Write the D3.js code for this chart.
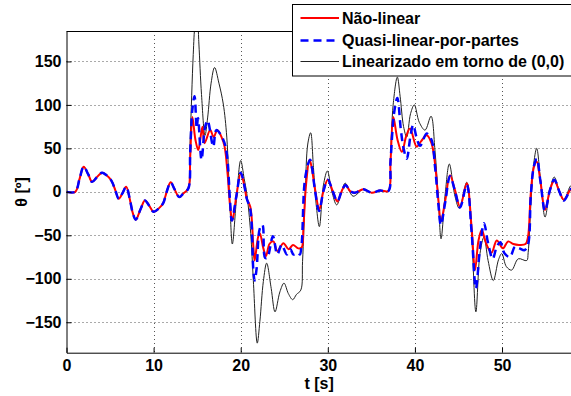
<!DOCTYPE html>
<html lang="pt">
<head>
<meta charset="utf-8">
<title>theta</title>
<script src="https://cdn.jsdelivr.net/npm/d3@7"></script>
<style>
  body { margin: 0; background: #fff; }
  text { font-family: "Liberation Sans", Arial, sans-serif; font-weight: bold; fill: #000; }
</style>
</head>
<body>
<svg id="chart" width="571" height="396"></svg>
<script>
// tick values
var xTicks = [0, 10, 20, 30, 40, 50];
var yTicks = [-150, -100, -50, 0, 50, 100, 150];

// common start (all three models agree until ~14 s)
var inicio = [[0,0],[1.0,0],[1.5,15],[1.97,29],[2.5,20],[2.93,11.5],[3.5,17],[4.08,22],[4.6,19],[5.15,13],
  [5.6,2],[6.0,-8],[6.4,-2],[6.85,5.8],[7.3,-10],[7.6,-24],[7.95,-32],[8.5,-20],[9.0,-10],[9.5,-16],
  [10.0,-23],[10.6,-19],[11.1,-13],[11.5,0],[11.96,11],[12.4,3],[12.95,-6],[13.4,-2],[13.99,4]];

var naoLinear = [[14.2,40],[14.45,86],[14.8,60],[15.13,48],[15.6,75],[15.85,56],[16.5,71],[16.9,63],[17.3,71],
  [17.8,63],[18.15,52],[18.5,20],[18.77,-15],[19.04,-33],[19.5,-5],[20.0,21],[20.4,8],[20.7,-8],[21.1,-17],
  [21.45,-63],[21.6,-79],[22.0,-52],[22.2,-48],[22.6,-65],[22.9,-74],[23.3,-60],[23.75,-57],[24.2,-68],
  [24.9,-59],[25.5,-66],[26.0,-61],[26.6,-65],[27.0,-64],[27.2,-41],[27.5,8],[27.9,37],[28.15,28],[28.5,5],
  [29.03,-20],[29.5,1],[30.0,14],[30.56,1],[31.1,-11],[31.6,1],[32.05,8],[32.55,1],[33.1,-1],[34.08,3],
  [35.04,-1],[36.0,1.5],[36.95,1],[37.2,35],[37.52,86],[38.0,60],[38.5,46],[39.0,64],[39.44,73],[40.2,52],
  [40.7,58],[41.35,65],[41.9,56],[42.3,33],[42.7,-10],[42.98,-34],[43.48,-10],[44.03,19],[44.6,2],
  [45.18,-17],[45.95,10],[46.5,-40],[46.9,-90],[47.3,-56],[47.67,-44],[48.2,-60],[48.8,-70],[49.4,-56],
  [50.1,-65],[50.7,-57],[51.3,-60],[51.95,-61],[52.7,-60],[52.98,-52],[53.3,-2],[53.67,29],[53.98,35],
  [54.4,13],[54.94,-21],[55.5,2],[56.0,13],[56.6,0],[57.1,-9],[57.8,2],[58,4]];

var quasiLinear = [[14.2,45],[14.45,95],[14.7,110],[14.95,74],[15.1,85],[15.5,37],[15.9,74],[16.2,82],
  [16.85,52],[17.2,71],[18.0,60],[18.4,44],[18.77,-10],[18.98,-33],[19.5,-5],[20.0,22],[20.4,8],[20.7,-8],
  [21.1,-20],[21.45,-90],[21.6,-102],[21.83,-88],[22.2,-42],[22.5,-38],[22.8,-76],[23.05,-76],[23.7,-51],
  [24.2,-72],[24.7,-61],[25.3,-72],[25.7,-66],[26.05,-72],[26.6,-70],[26.8,-72],[27.0,-60],[27.4,16],
  [27.96,37],[28.2,27],[28.5,4],[29.0,-22],[29.5,1],[30.0,14],[30.56,1],[31.1,-11],[31.6,1],[32.05,8],
  [32.55,1],[33.1,-1],[34.08,3],[35.04,-1],[36.0,1.5],[36.95,1],[37.2,35],[37.6,90],[37.98,108],[38.4,70],
  [38.7,50],[39.06,38],[39.5,65],[39.8,77],[40.2,62],[40.6,53],[41.35,67],[41.9,60],[42.3,30],[42.7,-15],
  [42.98,-38],[43.48,-12],[44.03,18],[44.6,1],[45.18,-18],[45.95,8],[46.5,-45],[47.0,-111],[47.47,-65],
  [47.93,-36],[48.4,-59],[48.93,-77],[49.4,-63],[49.8,-58],[50.3,-71],[50.9,-75],[51.5,-63],[52.0,-65],
  [52.6,-67],[53.0,-60],[53.3,-5],[53.67,30],[54.0,38],[54.4,13],[54.94,-22],[55.5,2],[56.0,14],[56.6,0],
  [57.1,-10],[57.8,2],[58,4]];

var linearizado = [[14.2,60],[14.55,158],[14.75,192],[15.0,205],[15.2,170],[15.5,112],[15.9,65],[16.2,85],
  [16.6,125],[17.0,143],[17.5,125],[18.0,101],[18.4,63],[18.77,-17],[19.04,-60],[19.5,-10],[20.0,36],
  [20.4,15],[20.7,-2],[21.15,-48],[21.45,-102],[21.9,-174],[22.2,-149],[22.6,-103],[22.98,-82],[23.5,-111],
  [23.94,-138],[24.5,-115],[24.97,-105],[25.47,-117],[25.97,-124],[26.4,-118],[26.9,-113],[27.1,-80],
  [27.4,-3],[27.7,55],[28.03,68],[28.35,28],[28.7,-18],[29.03,-40],[29.5,8],[29.95,24],[30.45,1],
  [31.02,-15],[31.6,1],[32.0,10],[32.9,-5],[34.1,3],[35.04,-1],[36.0,1.5],[36.95,1],[37.2,40],[37.5,100],
  [37.98,132],[38.3,110],[38.7,75],[39.06,63],[39.5,90],[39.93,100],[40.5,80],[41.16,71],[41.85,87],
  [42.3,48],[42.7,-10],[43.0,-54],[43.48,-2],[43.95,32],[44.6,-5],[45.1,-19],[45.95,11],[46.5,-48],
  [47.0,-138],[47.47,-71],[47.93,-52],[48.4,-79],[49.0,-102],[49.6,-78],[49.97,-71],[50.5,-86],[51.1,-90],
  [51.87,-77],[52.84,-79],[53.0,-70],[53.3,-17],[53.6,29],[53.98,50],[54.4,16],[54.94,-29],[55.5,2],
  [56.0,17],[56.6,0],[57.1,-10],[57.8,6],[58,8]];

var series = [
  {name: "Linearizado em torno de (0,0)", pts: inicio.concat(linearizado), color: "#222", width: 1, dash: null},
  {name: "Não-linear", pts: inicio.concat(naoLinear), color: "#ff0000", width: 2, dash: null},
  {name: "Quasi-linear-por-partes", pts: inicio.concat(quasiLinear), color: "#0000ff", width: 2.5, dash: "8,5"}
];

var svg = d3.select("#chart");
var pLeft = 66.5, pRight = 571.7, pTop = 31, pBottom = 352.7;

var x = d3.scaleLinear().domain([0, 58]).range([pLeft, pRight]);
var y = d3.scaleLinear().domain([-185, 185]).range([pBottom, pTop]);

svg.append("clipPath").attr("id", "clip")
  .append("rect").attr("x", pLeft).attr("y", pTop).attr("width", pRight - pLeft).attr("height", pBottom - pTop);

// grid
var grid = svg.append("g").attr("stroke", "#555").attr("stroke-width", 1).attr("stroke-dasharray", "1,3");
grid.selectAll(".gx").data(xTicks.slice(1)).enter().append("line")
  .attr("x1", d => Math.round(x(d)) + 0.5).attr("x2", d => Math.round(x(d)) + 0.5)
  .attr("y1", pTop).attr("y2", pBottom);
grid.selectAll(".gy").data(yTicks).enter().append("line")
  .attr("y1", d => Math.round(y(d)) + 0.5).attr("y2", d => Math.round(y(d)) + 0.5)
  .attr("x1", pLeft).attr("x2", pRight);

// lines
var line = d3.line()
  .x(d => x(d[0])).y(d => y(d[1]))
  .curve(d3.curveCatmullRom.alpha(0.5));

svg.append("g").attr("clip-path", "url(#clip)")
  .selectAll("path").data(series).enter().append("path")
  .attr("d", d => line(d.pts))
  .attr("fill", "none")
  .attr("stroke", d => d.color)
  .attr("stroke-width", d => d.width)
  .attr("stroke-dasharray", d => d.dash);

// axes
var xAxis = d3.axisBottom(x).tickValues(xTicks).tickSizeInner(-5).tickSizeOuter(0).tickPadding(7);
var yAxis = d3.axisLeft(y).tickValues(yTicks).tickSizeInner(-5).tickSizeOuter(0).tickPadding(5);

var gx = svg.append("g").attr("transform", "translate(0," + pBottom + ")").call(xAxis);
var gy = svg.append("g").attr("transform", "translate(" + pLeft + ",0)").call(yAxis);
[gx, gy].forEach(function(g) {
  g.select(".domain").attr("stroke", "#000");
  g.selectAll(".tick line").attr("stroke", "#000");
  g.selectAll("text").style("font-size", "16px").style("font-family", "Liberation Sans, Arial, sans-serif").style("font-weight", "bold");
});

svg.append("line").attr("x1", pLeft).attr("x2", pRight).attr("y1", pTop + 0.5).attr("y2", pTop + 0.5).attr("stroke", "#000");

// axis titles
svg.append("text").attr("x", (pLeft + pRight) / 2).attr("y", 389)
  .attr("text-anchor", "middle").style("font-size", "16px").text("t [s]");
svg.append("text").attr("transform", "translate(27," + ((pTop + pBottom) / 2) + ") rotate(-90)")
  .attr("text-anchor", "middle").style("font-size", "16px").text("θ [º]");

// legend
var legend = svg.append("g");
legend.append("rect").attr("x", 292.5).attr("y", 4.5).attr("width", 290).attr("height", 71.5)
  .attr("fill", "#fff").attr("stroke", "#000");
var legendOrder = [series[1], series[2], series[0]];
var rowY = [18, 40.5, 61.5];
legendOrder.forEach(function(s, i) {
  legend.append("line").attr("x1", 300.5).attr("x2", 339).attr("y1", rowY[i]).attr("y2", rowY[i])
    .attr("stroke", s.color).attr("stroke-width", s.width).attr("stroke-dasharray", s.dash);
  legend.append("text").attr("x", 342).attr("y", rowY[i]).attr("dy", "0.36em")
    .style("font-size", "16px").text(s.name);
});
</script>
</body>
</html>
